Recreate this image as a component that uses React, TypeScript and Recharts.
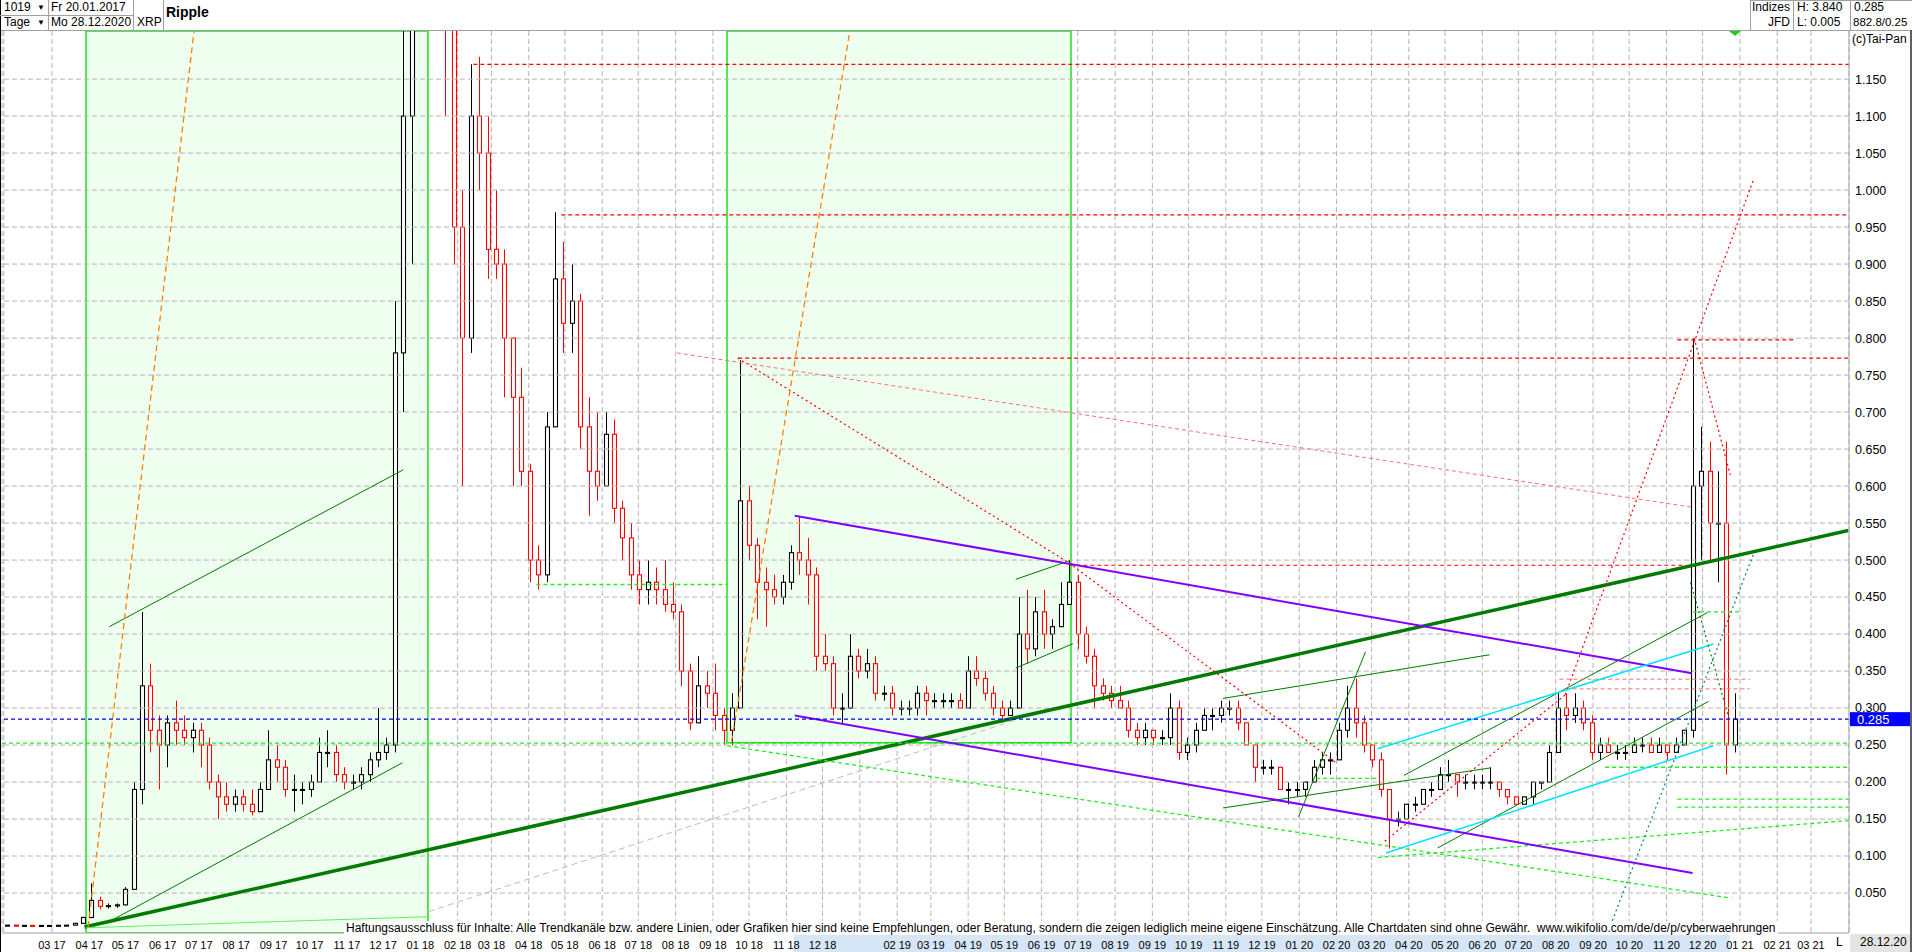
import React from "react";
import { ComposedChart, Bar, XAxis, YAxis, CartesianGrid, ReferenceLine, ReferenceArea } from "recharts";

const FONT = '"Liberation Sans", Arial, Helvetica, sans-serif';
const START_UTC = Date.UTC(2017, 0, 20);
const DAY_MS = 86400000;

// weekly candles [open, high, low, close], first week starts Fr 20.01.2017
const candles: [number, number, number, number][] = [
  [0.0065, 0.0068, 0.0063, 0.0066], [0.0066, 0.0068, 0.0062, 0.0063], [0.0063, 0.0065, 0.0061, 0.0063], [0.0063, 0.0064, 0.006, 0.0061],
  [0.0061, 0.0063, 0.0059, 0.0062], [0.0062, 0.0064, 0.006, 0.0062], [0.0062, 0.0065, 0.006, 0.0064], [0.0064, 0.0068, 0.0062, 0.0066],
  [0.0066, 0.0098, 0.0064, 0.009], [0.009, 0.018, 0.0088, 0.017], [0.017, 0.063, 0.016, 0.04], [0.04, 0.045, 0.028, 0.032],
  [0.032, 0.036, 0.029, 0.033], [0.033, 0.036, 0.03, 0.034], [0.034, 0.058, 0.033, 0.055], [0.055, 0.2, 0.055, 0.19],
  [0.19, 0.43, 0.17, 0.33], [0.33, 0.36, 0.24, 0.27], [0.27, 0.29, 0.19, 0.25], [0.25, 0.29, 0.22, 0.28],
  [0.28, 0.31, 0.25, 0.27], [0.27, 0.29, 0.25, 0.26], [0.26, 0.28, 0.24, 0.27], [0.27, 0.28, 0.22, 0.25],
  [0.25, 0.26, 0.19, 0.2], [0.2, 0.21, 0.15, 0.18], [0.18, 0.2, 0.16, 0.17], [0.17, 0.19, 0.16, 0.18],
  [0.18, 0.19, 0.16, 0.17], [0.17, 0.19, 0.155, 0.16], [0.16, 0.2, 0.16, 0.19], [0.19, 0.27, 0.19, 0.23],
  [0.23, 0.25, 0.2, 0.22], [0.22, 0.23, 0.18, 0.19], [0.19, 0.21, 0.16, 0.19], [0.19, 0.2, 0.17, 0.19],
  [0.19, 0.21, 0.18, 0.2], [0.2, 0.26, 0.2, 0.24], [0.24, 0.27, 0.22, 0.24], [0.24, 0.25, 0.2, 0.21],
  [0.21, 0.22, 0.19, 0.2], [0.2, 0.21, 0.19, 0.2], [0.2, 0.22, 0.19, 0.21], [0.21, 0.24, 0.2, 0.23],
  [0.23, 0.3, 0.22, 0.24], [0.24, 0.26, 0.23, 0.25], [0.25, 0.85, 0.24, 0.78], [0.78, 1.3, 0.7, 1.1],
  [1.1, 1.6, 0.9, 1.5], [1.5, 3.4, 1.45, 3.0], [3.0, 3.84, 2.0, 2.0], [2.0, 2.1, 1.4, 1.6],
  [1.6, 1.8, 1.1, 1.3], [1.3, 1.45, 0.9, 0.95], [0.95, 1.0, 0.6, 0.8], [0.8, 1.17, 0.78, 1.1],
  [1.1, 1.18, 1.0, 1.05], [1.05, 1.1, 0.88, 0.92], [0.92, 1.0, 0.88, 0.9], [0.9, 0.92, 0.72, 0.8],
  [0.8, 0.8, 0.6, 0.72], [0.72, 0.76, 0.6, 0.62], [0.62, 0.63, 0.47, 0.5], [0.5, 0.52, 0.46, 0.48],
  [0.48, 0.7, 0.47, 0.68], [0.68, 0.97, 0.68, 0.88], [0.88, 0.93, 0.78, 0.82], [0.82, 0.9, 0.78, 0.85],
  [0.85, 0.86, 0.65, 0.68], [0.68, 0.72, 0.56, 0.62], [0.62, 0.7, 0.58, 0.6], [0.6, 0.7, 0.6, 0.67],
  [0.67, 0.69, 0.55, 0.57], [0.57, 0.58, 0.5, 0.53], [0.53, 0.55, 0.46, 0.48], [0.48, 0.5, 0.44, 0.46],
  [0.46, 0.5, 0.44, 0.47], [0.47, 0.49, 0.44, 0.46], [0.46, 0.5, 0.43, 0.44], [0.44, 0.47, 0.42, 0.43],
  [0.43, 0.44, 0.33, 0.35], [0.35, 0.36, 0.27, 0.28], [0.28, 0.37, 0.28, 0.33], [0.33, 0.35, 0.3, 0.32],
  [0.32, 0.36, 0.27, 0.29], [0.29, 0.3, 0.25, 0.27], [0.27, 0.32, 0.25, 0.3], [0.3, 0.77, 0.3, 0.58],
  [0.58, 0.6, 0.5, 0.52], [0.52, 0.53, 0.42, 0.47], [0.47, 0.49, 0.41, 0.46], [0.46, 0.48, 0.44, 0.45],
  [0.45, 0.48, 0.44, 0.47], [0.47, 0.52, 0.46, 0.51], [0.51, 0.56, 0.48, 0.5], [0.5, 0.53, 0.44, 0.48],
  [0.48, 0.49, 0.35, 0.37], [0.37, 0.4, 0.35, 0.36], [0.36, 0.37, 0.29, 0.3], [0.3, 0.32, 0.28, 0.3],
  [0.3, 0.4, 0.3, 0.37], [0.37, 0.38, 0.34, 0.35], [0.35, 0.38, 0.34, 0.36], [0.36, 0.37, 0.31, 0.32],
  [0.32, 0.33, 0.31, 0.32], [0.32, 0.33, 0.29, 0.3], [0.3, 0.31, 0.29, 0.3], [0.3, 0.31, 0.29, 0.3],
  [0.3, 0.33, 0.29, 0.32], [0.32, 0.33, 0.29, 0.31], [0.31, 0.32, 0.3, 0.31], [0.31, 0.32, 0.3, 0.31],
  [0.31, 0.32, 0.3, 0.31], [0.31, 0.32, 0.3, 0.3], [0.3, 0.37, 0.3, 0.35], [0.35, 0.37, 0.33, 0.34],
  [0.34, 0.35, 0.31, 0.32], [0.32, 0.33, 0.29, 0.3], [0.3, 0.31, 0.28, 0.29], [0.29, 0.31, 0.29, 0.3],
  [0.3, 0.45, 0.3, 0.4], [0.4, 0.46, 0.36, 0.38], [0.38, 0.45, 0.37, 0.43], [0.43, 0.46, 0.38, 0.4],
  [0.4, 0.42, 0.38, 0.41], [0.41, 0.47, 0.41, 0.44], [0.44, 0.5, 0.44, 0.47], [0.47, 0.48, 0.38, 0.4],
  [0.4, 0.41, 0.36, 0.37], [0.37, 0.38, 0.3, 0.33], [0.33, 0.34, 0.31, 0.32], [0.32, 0.33, 0.3, 0.31],
  [0.31, 0.33, 0.3, 0.3], [0.3, 0.31, 0.26, 0.27], [0.27, 0.28, 0.25, 0.26], [0.26, 0.28, 0.25, 0.27],
  [0.27, 0.27, 0.25, 0.26], [0.26, 0.27, 0.25, 0.26], [0.26, 0.32, 0.25, 0.3], [0.3, 0.31, 0.23, 0.24],
  [0.24, 0.26, 0.23, 0.25], [0.25, 0.28, 0.24, 0.27], [0.27, 0.3, 0.27, 0.29], [0.29, 0.3, 0.27, 0.29],
  [0.29, 0.31, 0.28, 0.3], [0.3, 0.31, 0.29, 0.3], [0.3, 0.31, 0.27, 0.28], [0.28, 0.28, 0.25, 0.25],
  [0.25, 0.25, 0.2, 0.22], [0.22, 0.23, 0.21, 0.22], [0.22, 0.23, 0.21, 0.22], [0.22, 0.22, 0.19, 0.19],
  [0.19, 0.2, 0.17, 0.19], [0.19, 0.2, 0.18, 0.19], [0.19, 0.2, 0.18, 0.2], [0.2, 0.23, 0.2, 0.22],
  [0.22, 0.24, 0.21, 0.23], [0.23, 0.24, 0.21, 0.23], [0.23, 0.28, 0.23, 0.27], [0.27, 0.33, 0.26, 0.3],
  [0.3, 0.34, 0.26, 0.28], [0.28, 0.29, 0.24, 0.25], [0.25, 0.25, 0.22, 0.23], [0.23, 0.24, 0.18, 0.19],
  [0.19, 0.19, 0.11, 0.15], [0.15, 0.16, 0.14, 0.15], [0.15, 0.17, 0.15, 0.17], [0.17, 0.18, 0.16, 0.17],
  [0.17, 0.19, 0.17, 0.19], [0.19, 0.2, 0.18, 0.19], [0.19, 0.22, 0.19, 0.21], [0.21, 0.23, 0.2, 0.21],
  [0.21, 0.21, 0.18, 0.2], [0.2, 0.21, 0.19, 0.2], [0.2, 0.21, 0.19, 0.2], [0.2, 0.21, 0.19, 0.2],
  [0.2, 0.22, 0.19, 0.2], [0.2, 0.2, 0.18, 0.19], [0.19, 0.19, 0.17, 0.18], [0.18, 0.18, 0.17, 0.17],
  [0.17, 0.18, 0.17, 0.18], [0.18, 0.2, 0.17, 0.2], [0.2, 0.2, 0.19, 0.2], [0.2, 0.25, 0.2, 0.24],
  [0.24, 0.32, 0.24, 0.3], [0.3, 0.32, 0.27, 0.29], [0.29, 0.32, 0.28, 0.3], [0.3, 0.31, 0.27, 0.28],
  [0.28, 0.29, 0.23, 0.24], [0.24, 0.26, 0.23, 0.25], [0.25, 0.26, 0.24, 0.24], [0.24, 0.25, 0.23, 0.24],
  [0.24, 0.25, 0.23, 0.24], [0.24, 0.26, 0.24, 0.25], [0.25, 0.26, 0.24, 0.25], [0.25, 0.26, 0.24, 0.24],
  [0.24, 0.26, 0.24, 0.25], [0.25, 0.25, 0.23, 0.24], [0.24, 0.26, 0.24, 0.25], [0.25, 0.27, 0.25, 0.27],
  [0.27, 0.8, 0.26, 0.6], [0.6, 0.68, 0.5, 0.62], [0.62, 0.66, 0.5, 0.55], [0.55, 0.62, 0.47, 0.55],
  [0.55, 0.66, 0.21, 0.25], [0.25, 0.32, 0.24, 0.285],
];

const monthLabels = [
  "03 17", "04 17", "05 17", "06 17", "07 17", "08 17", "09 17", "10 17", "11 17", "12 17",
  "01 18", "02 18", "03 18", "04 18", "05 18", "06 18", "07 18", "08 18", "09 18", "10 18", "11 18", "12 18",
  "01 19", "02 19", "03 19", "04 19", "05 19", "06 19", "07 19", "08 19", "09 19", "10 19", "11 19", "12 19",
  "01 20", "02 20", "03 20", "04 20", "05 20", "06 20", "07 20", "08 20", "09 20", "10 20", "11 20", "12 20",
  "01 21", "02 21", "03 21",
];
const hiddenMonthLabels = ["01 19"];
const yTicks = [0.05, 0.1, 0.15, 0.2, 0.25, 0.3, 0.35, 0.4, 0.45, 0.5, 0.55, 0.6, 0.65, 0.7, 0.75, 0.8, 0.85, 0.9, 0.95, 1.0, 1.05, 1.1, 1.15];
const lastPrice = 0.285;

const X_DOMAIN: [number, number] = [-1.5, 1532.6];
const Y_DOMAIN: [number, number] = [-0.004, 1.215];

// line segments in data space: [dayFrom, valueFrom, dayTo, valueTo]
type Seg = [number, number, number, number];
const thickGreenLines: Seg[] = [[67, 0.004, 1532, 0.54]];
const darkGreenLines: Seg[] = [
  [87.6, 0.41, 331.8, 0.622],
  [86, 0.01, 331, 0.226],
  [840.5, 0.474, 885, 0.499],
  [840.5, 0.354, 888, 0.387],
  [1163, 0.209, 1415, 0.429],
  [1191, 0.111, 1416, 0.309],
  [1012.6, 0.165, 1234.4, 0.219],
  [1012.6, 0.313, 1234, 0.372],
  [1075.4, 0.153, 1131, 0.376],
];
const limeDashedLines: Seg[] = [
  [-1.5, 0.2525, 1532.6, 0.2525],
  [1330, 0.22, 1532.6, 0.22],
  [442.4, 0.467, 601.4, 0.467],
  [1403, 0.43, 1444, 0.43],
  [1090, 0.205, 1141, 0.205],
  [601, 0.249, 1435, 0.043],
  [1390, 0.177, 1532.6, 0.177],
  [1390, 0.166, 1532.6, 0.166],
  [1141, 0.098, 1532.6, 0.148],
];
const limeSolidLines: Seg[] = [[68, 0.003, 352, 0.018]];
const redDashedLines: Seg[] = [
  [390, 1.17, 1532.6, 1.17],
  [463, 0.9666, 1532.6, 0.9666],
  [610, 0.773, 1532.6, 0.773],
  [1390, 0.7977, 1487, 0.7977],
  [885, 0.493, 1395, 0.493],
];
const redDottedLines: Seg[] = [
  [609.6, 0.773, 885, 0.496],
  [885, 0.496, 1106, 0.227],
  [1147, 0.12, 1297, 0.318],
  [1297, 0.318, 1453, 1.013],
  [1404, 0.8, 1434, 0.615],
];
const pinkDashedLines: Seg[] = [
  [559, 0.78, 1404, 0.571],
  [1292, 0.339, 1450, 0.339],
  [1303, 0.326, 1450, 0.326],
];
const orangeDashedLines: Seg[] = [
  [70, 0.004, 158, 1.215],
  [604.5, 0.255, 702.7, 1.215],
];
const purpleLines: Seg[] = [
  [657, 0.56, 1402, 0.347],
  [657, 0.29, 1402.6, 0.077],
];
const cyanLines: Seg[] = [
  [1141, 0.245, 1420, 0.3865],
  [1148, 0.104, 1420, 0.249],
];
const tealDottedLines: Seg[] = [[1333, 0.0, 1453, 0.507]];
const greenDottedLines: Seg[] = [[1401, 0.47, 1433, 0.285]];
const grayDashedLines: Seg[] = [[353, 0.025, 842.5, 0.285]];
// time windows [dayFrom, dayTo, valueFrom, valueTo]
const greenBoxes: [number, number, number, number][] = [
  [68.3, 352.3, -0.004, 1.215],
  [600.7, 886.4, 0.253, 1.215],
];
// highlighted range of the time axis [dayFrom, dayTo]
const axisHighlight: [number, number] = [656, 1434];

const data = candles.map(([o, h, l, c], i) => ({ x: i * 7 + 3, range: [l, h], o, h, l, c }));

const dayOf = (label: string) => {
  const [mm, yy] = label.split(" ");
  return Math.round((Date.UTC(2000 + Number(yy), Number(mm) - 1, 1) - START_UTC) / DAY_MS);
};
const tickMap = new Map<number, string>();
tickMap.set(0, "");
monthLabels.forEach((lb) => tickMap.set(dayOf(lb), hiddenMonthLabels.includes(lb) ? "" : lb));
const xTicks = Array.from(tickMap.keys());

const W = 1912;
const H = 952;
const PLOT_L = 2;
const PLOT_R = 1849;
const dayToPx = (d: number) => PLOT_L + ((d - X_DOMAIN[0]) / (X_DOMAIN[1] - X_DOMAIN[0])) * (PLOT_R - PLOT_L);

const Candle = (props: any) => {
  const p = props.payload || props;
  const { o, h, l, c } = p;
  const { x, y, width, height } = props;
  if (x == null || y == null) return null;
  const top = Math.min(y, y + height);
  const hh = Math.abs(height);
  const k = h > l ? hh / (h - l) : 0;
  const yo = top + (h - o) * k;
  const yc = top + (h - c) * k;
  const color = c >= o ? "#000000" : "#ff0000";
  const cx = Math.round(x + width / 2) + 0.5;
  const bTop = Math.min(yo, yc);
  const bH = Math.max(1, Math.abs(yc - yo));
  return (
    <g>
      <line x1={cx} x2={cx} y1={top} y2={top + hh} stroke={color} strokeWidth={1} />
      <rect x={cx - 2} y={bTop} width={4} height={bH} fill="#ffffff" stroke={color} strokeWidth={1.1} />
    </g>
  );
};

const PriceTag = (props: any) => {
  const vb = props.viewBox || {};
  const x = (vb.x ?? 0) + (vb.width ?? 0);
  const y = vb.y ?? 0;
  return (
    <g>
      <rect x={x + 1} y={y - 7} width={64} height={14} fill="#0000ff" />
      <text x={x + 8} y={y + 4.5} fill="#ffffff" fontSize={13} fontFamily={FONT}>
        {props.value}
      </text>
    </g>
  );
};

const segLines = (segs: Seg[], keyBase: string, style: any) =>
  segs.map((s, i) => (
    <ReferenceLine
      key={keyBase + i}
      segment={[{ x: s[0], y: s[1] }, { x: s[2], y: s[3] }]}
      ifOverflow="hidden"
      {...style}
    />
  ));

const cell = (style: React.CSSProperties): React.CSSProperties => ({
  position: "absolute",
  fontSize: 12,
  lineHeight: "15px",
  color: "#000",
  whiteSpace: "nowrap",
  ...style,
});

export default function App() {
  return (
    <div style={{ position: "absolute", left: 0, top: 0, width: W, height: H, background: "#fff", overflow: "hidden", fontFamily: FONT }}>
      <div
        style={{
          position: "absolute",
          left: dayToPx(axisHighlight[0]),
          width: dayToPx(axisHighlight[1]) - dayToPx(axisHighlight[0]),
          top: 934,
          height: 18,
          background: "#d6e6f7",
        }}
      />
      <div style={{ position: "absolute", left: 1850, width: 62, top: 934, height: 18, background: "#e4e4e4" }} />
      <ComposedChart width={W} height={H} data={data} margin={{ top: 31, right: 0, bottom: 0, left: 2 }}>
        <CartesianGrid horizontal={false} stroke="#b4b4b4" strokeDasharray="5 3" />
        {greenBoxes.map((b, i) => (
          <ReferenceArea
            key={"box" + i}
            x1={b[0]}
            x2={b[1]}
            y1={b[2]}
            y2={b[3]}
            fill="#efffef"
            fillOpacity={1}
            stroke="#22dd22"
            strokeWidth={1.5}
            ifOverflow="hidden"
          />
        ))}
        {yTicks.map((v) => (
          <ReferenceLine key={"hg" + v} y={v} stroke="#b4b4b4" strokeDasharray="5 3" />
        ))}
        <XAxis
          dataKey="x"
          type="number"
          domain={X_DOMAIN}
          allowDataOverflow
          ticks={xTicks}
          interval={0}
          tickFormatter={(d: number) => tickMap.get(d) ?? ""}
          height={19}
          tickLine={false}
          axisLine={{ stroke: "#a0a0a0" }}
          tick={{ fontSize: 11, fill: "#000", fontFamily: FONT }}
          tickMargin={2}
        />
        <YAxis
          orientation="right"
          type="number"
          domain={Y_DOMAIN}
          allowDataOverflow
          ticks={yTicks}
          interval={0}
          tickFormatter={(v: number) => v.toFixed(3)}
          width={63}
          tickSize={0}
          tickMargin={6}
          axisLine={{ stroke: "#a8a8a8" }}
          tick={{ fontSize: 12.5, fill: "#000", fontFamily: FONT, textAnchor: "start" }}
        />
        {segLines(grayDashedLines, "gray", { stroke: "#bdbdbd", strokeDasharray: "6 4", strokeWidth: 1 })}
        <Bar dataKey="range" shape={(p: any) => <Candle {...p} />} isAnimationActive={false} barSize={6} />
        {segLines(thickGreenLines, "tg", { stroke: "#007a00", strokeWidth: 3.5 })}
        {segLines(darkGreenLines, "dg", { stroke: "#007a00", strokeWidth: 1 })}
        {segLines(limeDashedLines, "ld", { stroke: "#22ee22", strokeDasharray: "4 3", strokeWidth: 1.3 })}
        {segLines(limeSolidLines, "ls", { stroke: "#66ee66", strokeWidth: 1 })}
        {segLines(redDashedLines, "rd", { stroke: "#ff0000", strokeDasharray: "4 3", strokeWidth: 1.2 })}
        {segLines(redDottedLines, "rt", { stroke: "#ff0000", strokeDasharray: "2 3", strokeWidth: 1.2 })}
        {segLines(pinkDashedLines, "pk", { stroke: "#ff7070", strokeDasharray: "4 3", strokeWidth: 1 })}
        {segLines(orangeDashedLines, "or", { stroke: "#ff8000", strokeDasharray: "6 4", strokeWidth: 1.3 })}
        {segLines(purpleLines, "pu", { stroke: "#8000ff", strokeWidth: 2 })}
        {segLines(cyanLines, "cy", { stroke: "#00e5ff", strokeWidth: 1.5 })}
        {segLines(tealDottedLines, "te", { stroke: "#008080", strokeDasharray: "2 3", strokeWidth: 1.2 })}
        {segLines(greenDottedLines, "gd", { stroke: "#008000", strokeDasharray: "2 3", strokeWidth: 1.2 })}
        <ReferenceLine
          y={lastPrice}
          stroke="#0000ff"
          strokeDasharray="4 3"
          strokeWidth={1.2}
          label={<PriceTag value={lastPrice.toFixed(3)} />}
        />
      </ComposedChart>

      {/* header */}
      <div style={{ position: "absolute", left: 0, top: 0, width: W, height: 30, background: "#fff", borderBottom: "1px solid #a0a0a0" }} />
      <div style={{ position: "absolute", left: 0, top: 0, width: 1, height: H, background: "#000" }} />
      <div style={{ position: "absolute", left: 0, top: 15, width: 133, height: 1, background: "#a0a0a0" }} />
      <div style={{ position: "absolute", left: 48, top: 0, width: 1, height: 30, background: "#a0a0a0" }} />
      <div style={{ position: "absolute", left: 133, top: 0, width: 1, height: 30, background: "#a0a0a0" }} />
      <div style={{ position: "absolute", left: 163, top: 0, width: 1, height: 30, background: "#a0a0a0" }} />
      <div style={cell({ left: 4, top: 0 })}>1019</div>
      <div style={cell({ left: 37, top: 0, fontSize: 8 })}>▼</div>
      <div style={cell({ left: 51, top: 0 })}>Fr 20.01.2017</div>
      <div style={cell({ left: 4, top: 15 })}>Tage</div>
      <div style={cell({ left: 37, top: 15, fontSize: 8 })}>▼</div>
      <div style={cell({ left: 51, top: 15 })}>Mo 28.12.2020</div>
      <div style={cell({ left: 137, top: 15 })}>XRP</div>
      <div style={cell({ left: 166, top: 4, fontSize: 14, fontWeight: "bold", lineHeight: "16px" })}>Ripple</div>

      <div style={{ position: "absolute", left: 1750, top: 0, width: 1, height: 30, background: "#a0a0a0" }} />
      <div style={{ position: "absolute", left: 1793, top: 0, width: 1, height: 30, background: "#a0a0a0" }} />
      <div style={{ position: "absolute", left: 1850, top: 0, width: 1, height: 30, background: "#a0a0a0" }} />
      <div style={{ position: "absolute", left: 1750, top: 0, width: 162, height: 1, background: "#a0a0a0" }} />
      <div style={cell({ left: 1752, top: 0 })}>Indizes</div>
      <div style={cell({ left: 1751, width: 39, top: 15, textAlign: "right" })}>JFD</div>
      <div style={cell({ left: 1797, top: 0 })}>H: 3.840</div>
      <div style={cell({ left: 1797, top: 15 })}>L: 0.005</div>
      <div style={cell({ left: 1854, top: 0 })}>0.285</div>
      <div style={cell({ left: 1853, top: 15, fontSize: 11.5 })}>882.8/0.25</div>
      <div style={cell({ left: 1852, top: 32 })}>(c)Tai-Pan</div>
      <svg style={{ position: "absolute", left: 1729, top: 31 }} width={12} height={6}>
        <polygon points="0,0 12,0 6,5" fill="#22cc22" />
      </svg>
      <div style={{ position: "absolute", left: 1910, top: 30, width: 2, height: H - 30, background: "#606060" }} />

      {/* footer */}
      <div style={cell({ left: 344, top: 921, fontSize: 12, lineHeight: "14px", background: "#fff", padding: "0 2px" })}>
        Haftungsausschluss für Inhalte: Alle Trendkanäle bzw. andere Linien, oder Grafiken hier sind keine Empfehlungen, oder Beratung, sondern die zeigen lediglich meine eigene Einschätzung. Alle Chartdaten sind ohne Gewähr.&nbsp; www.wikifolio.com/de/de/p/cyberwaehrungen
      </div>
      <div style={cell({ left: 1836, top: 935 })}>L</div>
      <div style={cell({ left: 1860, top: 935 })}>28.12.20</div>
    </div>
  );
}
